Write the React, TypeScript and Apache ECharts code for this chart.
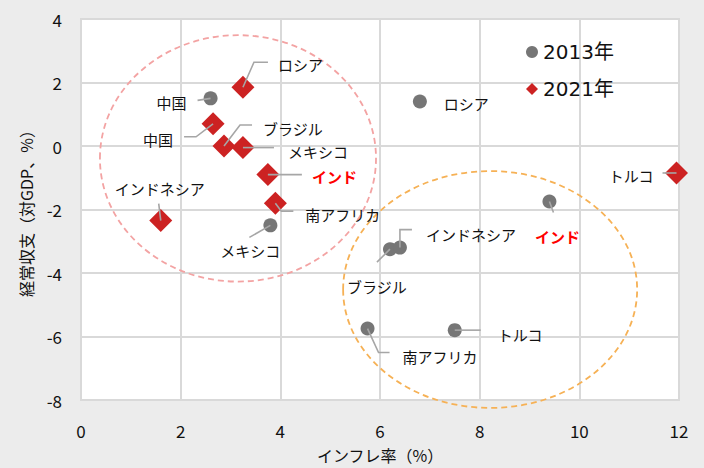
import React, { useEffect, useRef } from "react";
import * as echarts from "echarts";

const countries = ["中国", "ロシア", "ブラジル", "メキシコ", "インド", "南アフリカ", "インドネシア", "トルコ"];
const inflation2013 = [2.6, 6.8, 6.2, 3.8, 9.4, 5.75, 6.4, 7.5];
const balance2013 = [1.5, 1.4, -3.25, -2.5, -1.75, -5.75, -3.2, -5.8];
const inflation2021 = [2.65, 3.25, 2.87, 3.25, 3.75, 3.9, 1.6, 11.95];
const balance2021 = [0.7, 1.85, 0.0, -0.05, -0.9, -1.8, -2.35, -0.85];
const xTicks = [0, 2, 4, 6, 8, 10, 12];
const yTicks = [-8, -6, -4, -2, 0, 2, 4];
const seriesNames = ["2013年", "2021年"];

// Group highlight ellipses: [centre x, centre y, radius x, radius y] in data units
const ellipses2021 = [3.15, -0.39, 2.77, 3.88];
const ellipses2013 = [8.21, -4.52, 2.95, 3.73];

// Label layouts (pixel offsets from the marker): leader line points, text anchor, alignment
type Lay = { line: number[][]; tx: number; ty: number; align: string; red?: boolean };
const layout2013: Lay[] = [
  { line: [[0, 0], [-13, 2]], tx: -24, ty: 4, align: "right" },
  { line: [], tx: 24, ty: 2, align: "left" },
  { line: [[0, 0], [-13, 13]], tx: -13, ty: 37, align: "center" },
  { line: [[0, 0], [-21, 12]], tx: -20, ty: 25, align: "center" },
  { line: [[0, 0], [4, 11]], tx: 8, ty: 35, align: "center", red: true },
  { line: [[0, 0], [11, 24], [22, 24]], tx: 35, ty: 28, align: "left" },
  { line: [[0, 0], [0, -18], [12, -18]], tx: 26, ty: -13, align: "left" },
  { line: [[0, 0], [26, 0]], tx: 43, ty: 4, align: "left" },
];
const layout2021: Lay[] = [
  { line: [[0, 0], [-17, 13], [-29, 13]], tx: -40, ty: 16, align: "right" },
  { line: [[0, 0], [11, -25], [25, -25]], tx: 35, ty: -23, align: "left" },
  { line: [[0, 0], [16, -21], [28, -21]], tx: 39, ty: -18, align: "left" },
  { line: [[0, 0], [31, 0]], tx: 45, ty: 4, align: "left" },
  { line: [[0, 0], [34, 0]], tx: 44, ty: 2, align: "left", red: true },
  { line: [[0, 0], [6, 8], [18, 8]], tx: 30, ty: 11, align: "left" },
  { line: [[0, 0], [-2, -17]], tx: -1, ty: -32, align: "center" },
  { line: [[0, 0], [-14, 0]], tx: -23, ty: 3, align: "right" },
];

const FONT = '"Noto Sans CJK JP", "Noto Sans", sans-serif';
const LEGEND_FONT = '"DejaVu Sans", "Noto Sans CJK JP", sans-serif';

export default function App() {
  const ref = useRef<HTMLDivElement>(null);
  useEffect(() => {
    document.body.style.margin = "0";
    const chart = echarts.init(ref.current!, null, { renderer: "svg" });

    const labelSeries = (xs: number[], ys: number[], lay: Lay[], name: string) => ({
      type: "custom",
      name,
      z: 5,
      silent: true,
      encode: { x: 0, y: 1 },
      data: xs.map((x, i) => [x, ys[i], i]),
      renderItem: (params: any, api: any) => {
        const p = api.coord([api.value(0), api.value(1)]);
        const i = api.value(2);
        const L = lay[i];
        const children: any[] = [];
        if (L.line.length) {
          children.push({
            type: "polyline",
            shape: { points: L.line.map(([dx, dy]) => [p[0] + dx, p[1] + dy]) },
            style: { stroke: "#a6a6a6", lineWidth: 1.6, fill: null },
          });
        }
        children.push({
          type: "text",
          x: p[0] + L.tx,
          y: p[1] + L.ty,
          style: {
            text: countries[i],
            fill: L.red ? "#ff0000" : "#111111",
            fontSize: 15,
            fontWeight: L.red ? "bold" : "normal",
            fontFamily: FONT,
            align: L.align,
            verticalAlign: "middle",
          },
        });
        return { type: "group", children };
      },
    });

    const ellipseSeries = (e: number[], color: string, name: string) => ({
      type: "custom",
      name,
      z: 1,
      silent: true,
      clip: false,
      encode: { x: 0, y: 1 },
      data: [e],
      renderItem: (params: any, api: any) => {
        const c = api.coord([api.value(0), api.value(1)]);
        const s = api.size([api.value(2), api.value(3)]);
        return {
          type: "ellipse",
          shape: { cx: c[0], cy: c[1], rx: s[0], ry: s[1] },
          style: { fill: null, stroke: color, lineWidth: 1.8, lineDash: [6, 4] },
        };
      },
    });

    chart.setOption({
      animation: false,
      backgroundColor: "#ececec",
      textStyle: { fontFamily: FONT },
      grid: {
        left: 81,
        right: 25,
        top: 19,
        bottom: 66,
        show: true,
        backgroundColor: "#ffffff",
        borderColor: "#d9d9d9",
        borderWidth: 2,
      },
      legend: {
        orient: "vertical",
        left: 521,
        top: 36,
        itemGap: 15,
        itemWidth: 12,
        itemHeight: 12,
        textStyle: { fontSize: 20, color: "#111111", fontFamily: LEGEND_FONT, lineHeight: 22 },
        data: [
          { name: seriesNames[0], icon: "circle" },
          { name: seriesNames[1], icon: "diamond" },
        ],
      },
      xAxis: {
        type: "value",
        min: xTicks[0],
        max: xTicks[xTicks.length - 1],
        interval: 2,
        name: "インフレ率（%）",
        nameLocation: "middle",
        nameGap: 47,
        nameTextStyle: { fontSize: 16, color: "#111111", fontFamily: FONT },
        axisLine: { show: false },
        axisTick: { show: false },
        axisLabel: { fontSize: 17, color: "#111111", margin: 22, fontFamily: FONT },
        splitLine: { lineStyle: { color: "#d9d9d9", width: 2 } },
      },
      yAxis: {
        type: "value",
        min: yTicks[0],
        max: yTicks[yTicks.length - 1],
        interval: 2,
        name: "経常収支（対GDP、%）",
        nameLocation: "middle",
        nameGap: 47,
        nameTextStyle: { fontSize: 16, color: "#111111", fontFamily: FONT },
        axisLine: { show: false },
        axisTick: { show: false },
        axisLabel: { fontSize: 17, color: "#111111", margin: 19, fontFamily: FONT },
        splitLine: { lineStyle: { color: "#d9d9d9", width: 2 } },
      },
      series: [
        ellipseSeries(ellipses2021, "#f3a3a3", "e2021"),
        ellipseSeries(ellipses2013, "#f6b155", "e2013"),
        {
          type: "scatter",
          name: seriesNames[0],
          symbol: "circle",
          symbolSize: 14,
          z: 3,
          itemStyle: { color: "#767676", opacity: 1 },
          data: inflation2013.map((x, i) => [x, balance2013[i]]),
        },
        {
          type: "scatter",
          name: seriesNames[1],
          symbol: "diamond",
          symbolSize: 23,
          z: 3,
          itemStyle: { color: "#cc2222", opacity: 1 },
          data: inflation2021.map((x, i) => [x, balance2021[i]]),
        },
        labelSeries(inflation2013, balance2013, layout2013, "l2013"),
        labelSeries(inflation2021, balance2021, layout2021, "l2021"),
      ],
    });
    return () => chart.dispose();
  }, []);
  return <div ref={ref} style={{ width: 704, height: 468 }} />;
}
